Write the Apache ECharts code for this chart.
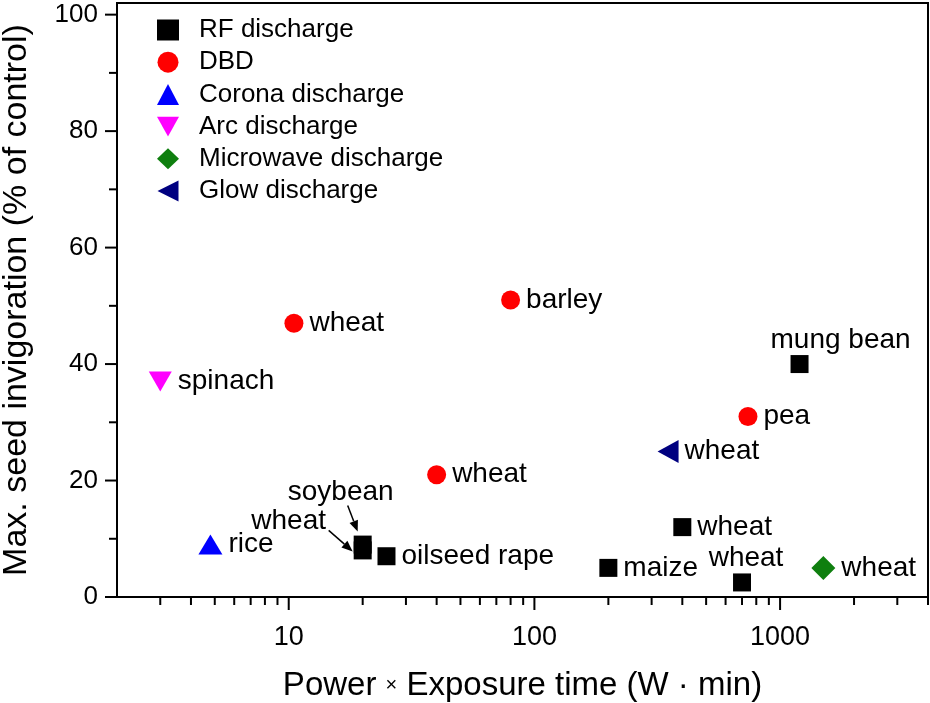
<!DOCTYPE html>
<html><head><meta charset="utf-8">
<script src="https://cdn.jsdelivr.net/npm/echarts@6/dist/echarts.min.js"></script>
<style>html,body{margin:0;padding:0;background:#fff}#c{width:930px;height:703px}</style>
</head><body><div id="c"></div>
<script>
// ---- data ----
const rfX = [20, 20, 25, 200, 400, 700, 1200];
const rfY = [9, 8, 7, 5, 12, 2.5, 40];
const rfNames = ['soybean', 'wheat', 'oilseed rape', 'maize', 'wheat', 'wheat', 'mung bean'];
const dbdX = [10.5, 40, 80, 740];
const dbdY = [47, 21, 51, 31];
const dbdNames = ['wheat', 'wheat', 'barley', 'pea'];
const coronaX = [4.8];
const coronaY = [9];
const coronaNames = ['rice'];
const arcX = [3];
const arcY = [37];
const arcNames = ['spinach'];
const microX = [1500];
const microY = [5];
const microNames = ['wheat'];
const glowX = [350];
const glowY = [25];
const glowNames = ['wheat'];
const seriesNames = ['RF discharge', 'DBD', 'Corona discharge', 'Arc discharge', 'Microwave discharge', 'Glow discharge'];
const xMajorTicks = [10, 100, 1000];
const xMinorTicks = [3, 4, 5, 6, 7, 8, 9, 20, 30, 40, 50, 60, 70, 80, 90, 200, 300, 400, 500, 600, 700, 800, 900, 2000, 3000, 4000];
const yMajorTicks = [0, 20, 40, 60, 80, 100];
const yMinorTicks = [10, 30, 50, 70, 90];
const X_MIN = 2, X_MAX = 4000, Y_MIN = 0, Y_MAX = 102;

// ---- styles ----
const FONT = '"Liberation Sans", Arial, Helvetica, sans-serif';
const R = {position: 'right', distance: 6};
const rfLabelStyle = [
  {position: 'inside', offset: [-22, -52]},
  {position: 'inside', offset: [-74, -29]},
  R, R, R,
  {position: 'top', distance: 1, offset: [4, 0]},
  {position: 'top', distance: 1, offset: [41, 0]}
];
const arrowSpecs = [
  {idx: 0, tail: [-15, -39], head: [-5, -13]},
  {idx: 1, tail: [-34, -20], head: [-10, 1]}
];

function pts(xs, ys, names, labelStyles) {
  return xs.map((x, i) => {
    const d = {value: [x, ys[i]], name: names[i]};
    if (labelStyles && labelStyles[i]) d.label = Object.assign({}, labelStyles[i]);
    return d;
  });
}

const baseLabel = {show: true, formatter: p => p.name, color: '#000', fontSize: 28, fontFamily: FONT, position: 'right', distance: 6};

function scatter(name, data, symbol, size, color) {
  return {
    name, type: 'scatter', data, symbol, symbolSize: size,
    itemStyle: {color, opacity: 1}, label: baseLabel,
    emphasis: {disabled: true}, z: 5
  };
}

function tickSeries(vals, axis, len) {
  return {
    type: 'custom', silent: true, clip: false, z: 10,
    data: vals.map(v => axis === 'x' ? [v, Y_MIN] : [X_MIN, v]),
    renderItem: (params, api) => {
      const p = api.coord([api.value(0), api.value(1)]);
      const shape = axis === 'x'
        ? {x1: p[0], y1: p[1], x2: p[0], y2: p[1] + len}
        : {x1: p[0], y1: p[1], x2: p[0] - len, y2: p[1]};
      return {type: 'line', shape, style: {stroke: '#000', lineWidth: 2}};
    }
  };
}

const chart = echarts.init(document.getElementById('c'), null, {renderer: 'canvas'});
const option = {
  animation: false,
  backgroundColor: '#fff',
  grid: {left: 117, right: 2, top: 3, bottom: 106, show: true, borderColor: '#000', borderWidth: 2,
    containLabel: false, outerBoundsMode: 'none'},
  legend: {
    data: seriesNames, orient: 'vertical', left: 152, top: 12,
    itemWidth: 22, itemHeight: 21, itemGap: 6.2, selectedMode: false,
    textStyle: {fontSize: 26, fontFamily: FONT, color: '#000', padding: [0, 0, 0, 15]}
  },
  xAxis: {
    type: 'log', logBase: 10, min: X_MIN, max: X_MAX,
    name: 'Power {s|×} Exposure time (W · min)', nameLocation: 'middle', nameGap: 72,
    nameTextStyle: {fontSize: 33, fontFamily: FONT, color: '#000', rich: {s: {fontSize: 20, fontFamily: FONT, color: '#000'}}},
    axisLine: {show: true, lineStyle: {color: '#000', width: 2}},
    axisTick: {show: false}, splitLine: {show: false},
    axisLabel: {
      fontSize: 27, fontFamily: FONT, color: '#000', margin: 27,
      formatter: v => xMajorTicks.some(t => Math.abs(t - v) / t < 1e-6) ? String(Math.round(v)) : ''
    }
  },
  yAxis: {
    type: 'value', min: Y_MIN, max: Y_MAX, interval: 20,
    name: 'Max. seed invigoration (% of control)', nameLocation: 'middle', nameGap: 83,
    nameTextStyle: {fontSize: 34, fontFamily: FONT, color: '#000'},
    axisLine: {show: true, lineStyle: {color: '#000', width: 2}},
    axisTick: {show: false}, splitLine: {show: false},
    axisLabel: {fontSize: 26, fontFamily: FONT, color: '#000', margin: 19, showMaxLabel: false,
      formatter: v => yMajorTicks.indexOf(v) >= 0 ? String(v) : ''}
  },
  series: [
    scatter(seriesNames[0], pts(rfX, rfY, rfNames, rfLabelStyle), 'rect', 18, '#000000'),
    scatter(seriesNames[1], pts(dbdX, dbdY, dbdNames), 'circle', 19, '#ff0000'),
    scatter(seriesNames[2], pts(coronaX, coronaY, coronaNames), 'triangle', [24, 20], '#0000ff'),
    scatter(seriesNames[3], pts(arcX, arcY, arcNames), 'path://M0,0L10,0L5,9Z', [23, 20], '#ff00ff'),
    scatter(seriesNames[4], pts(microX, microY, microNames), 'diamond', [24, 24], '#0f7f0f'),
    scatter(seriesNames[5], pts(glowX, glowY, glowNames), 'path://M0,5L10,0L10,10Z', [21, 23], '#000080'),
    tickSeries(xMajorTicks, 'x', 13),
    tickSeries(xMinorTicks, 'x', 8),
    tickSeries(yMajorTicks, 'y', 12),
    tickSeries(yMinorTicks, 'y', 8)
  ]
};
chart.setOption(option);

// arrows for the overlapping labels
const graphics = [];
arrowSpecs.forEach(a => {
  const p = chart.convertToPixel({gridIndex: 0}, [rfX[a.idx], rfY[a.idx]]);
  const x1 = p[0] + a.tail[0], y1 = p[1] + a.tail[1];
  const x2 = p[0] + a.head[0], y2 = p[1] + a.head[1];
  const ang = Math.atan2(y2 - y1, x2 - x1);
  const L = 11, W = 4.5;
  const bx = x2 - L * Math.cos(ang), by = y2 - L * Math.sin(ang);
  graphics.push({type: 'line', shape: {x1, y1, x2: bx, y2: by}, style: {stroke: '#000', lineWidth: 1.5}, z: 20});
  graphics.push({type: 'polygon', shape: {points: [[x2, y2],
    [bx + W * Math.sin(ang), by - W * Math.cos(ang)],
    [bx - W * Math.sin(ang), by + W * Math.cos(ang)]]}, style: {fill: '#000'}, z: 20});
});
chart.setOption({graphic: graphics});
</script></body></html>
